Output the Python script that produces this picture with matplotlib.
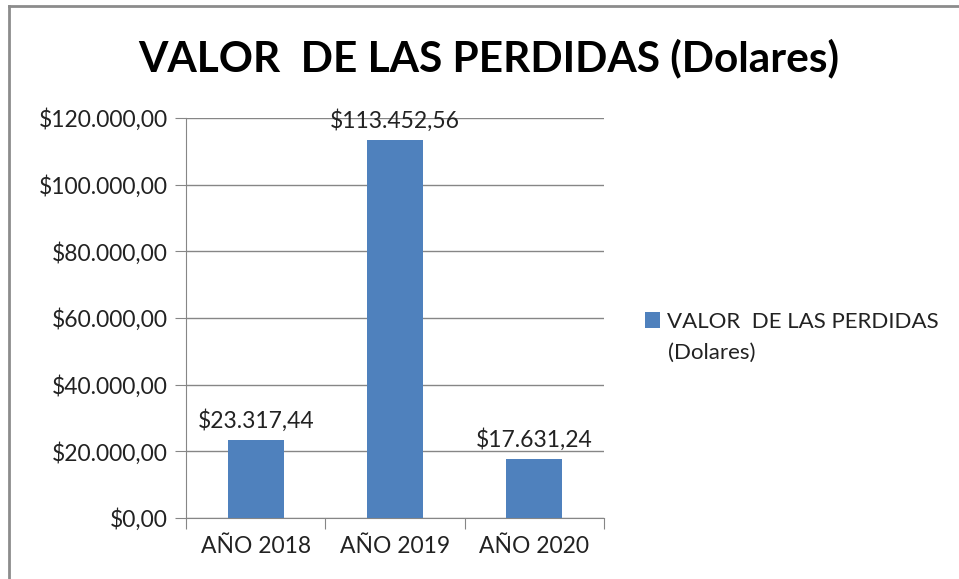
import matplotlib.pyplot as plt
from matplotlib.lines import Line2D
import matplotlib.ticker as mticker

categories = ['AÑO 2018', 'AÑO 2019', 'AÑO 2020']
values = [23317.44, 113452.56, 17631.24]
value_labels = ['$23.317,44', '$113.452,56', '$17.631,24']
series_line1 = 'VALOR  DE LAS PERDIDAS'
series_line2 = '(Dolares)'
title = 'VALOR  DE LAS PERDIDAS (Dolares)'

bar_color = '#4F81BD'
grid_color = '#868686'
text_color = '#222222'

plt.rcParams['font.family'] = ['Lato', 'DejaVu Sans']

fig = plt.figure(figsize=(9.59, 5.79), dpi=100)
W, H = 959, 579
ax = fig.add_axes([186 / W, 1 - 518 / H, (604 - 186) / W, (518 - 118) / H])

# chart border (only top and left show in the crop)
fig.add_artist(Line2D([9 / W, 9 / W], [0, 1 - 6 / H], transform=fig.transFigure,
                      color='#8c8c8c', linewidth=2))
fig.add_artist(Line2D([9 / W, 1], [1 - 6 / H, 1 - 6 / H], transform=fig.transFigure,
                      color='#8c8c8c', linewidth=2))

x = range(len(categories))
bars = ax.bar(x, values, width=0.4, color=bar_color, zorder=3)

for xi, v, lab in zip(x, values, value_labels):
    ax.annotate(lab, (xi, v), xytext=(0, 6), textcoords='offset points',
                ha='center', va='bottom', fontsize=16.5, color=text_color)

ax.set_xlim(-0.5, 2.5)
ax.set_ylim(0, 120000)
ax.yaxis.set_major_locator(mticker.MultipleLocator(20000))
ax.yaxis.set_major_formatter(mticker.FuncFormatter(
    lambda v, p: '$' + f'{v:,.2f}'.replace(',', 'X').replace('.', ',').replace('X', '.')))
ax.grid(axis='y', color=grid_color, linewidth=1, zorder=0)

ax.set_xticks([-0.5, 0.5, 1.5, 2.5])
ax.set_xticklabels([])
ax.set_xticks(list(x), minor=True)
ax.set_xticklabels(categories, minor=True)
ax.tick_params(axis='x', which='major', length=8, color=grid_color)
ax.tick_params(axis='x', which='minor', length=0, labelsize=16.5, pad=13, labelcolor=text_color)
ax.tick_params(axis='y', length=8, color=grid_color, labelsize=16.5, pad=5, labelcolor=text_color)

for side in ['top', 'right']:
    ax.spines[side].set_visible(False)
for side in ['left', 'bottom']:
    ax.spines[side].set_color(grid_color)

fig.text(489 / W, 1 - 58 / H, title, ha='center', va='center', fontsize=30.5, fontweight='bold')

fig.legend(handles=[bars], labels=[series_line1], loc='center left',
           bbox_to_anchor=(636 / W, 1 - 322 / H), frameon=False, fontsize=16,
           labelcolor=text_color, borderaxespad=0,
           handlelength=0.7, handleheight=0.7, handletextpad=0.3)
fig.text(668 / W, 1 - 353 / H, series_line2, ha='left', va='center', fontsize=16,
         color=text_color)

fig.savefig('out.png', dpi=100)
